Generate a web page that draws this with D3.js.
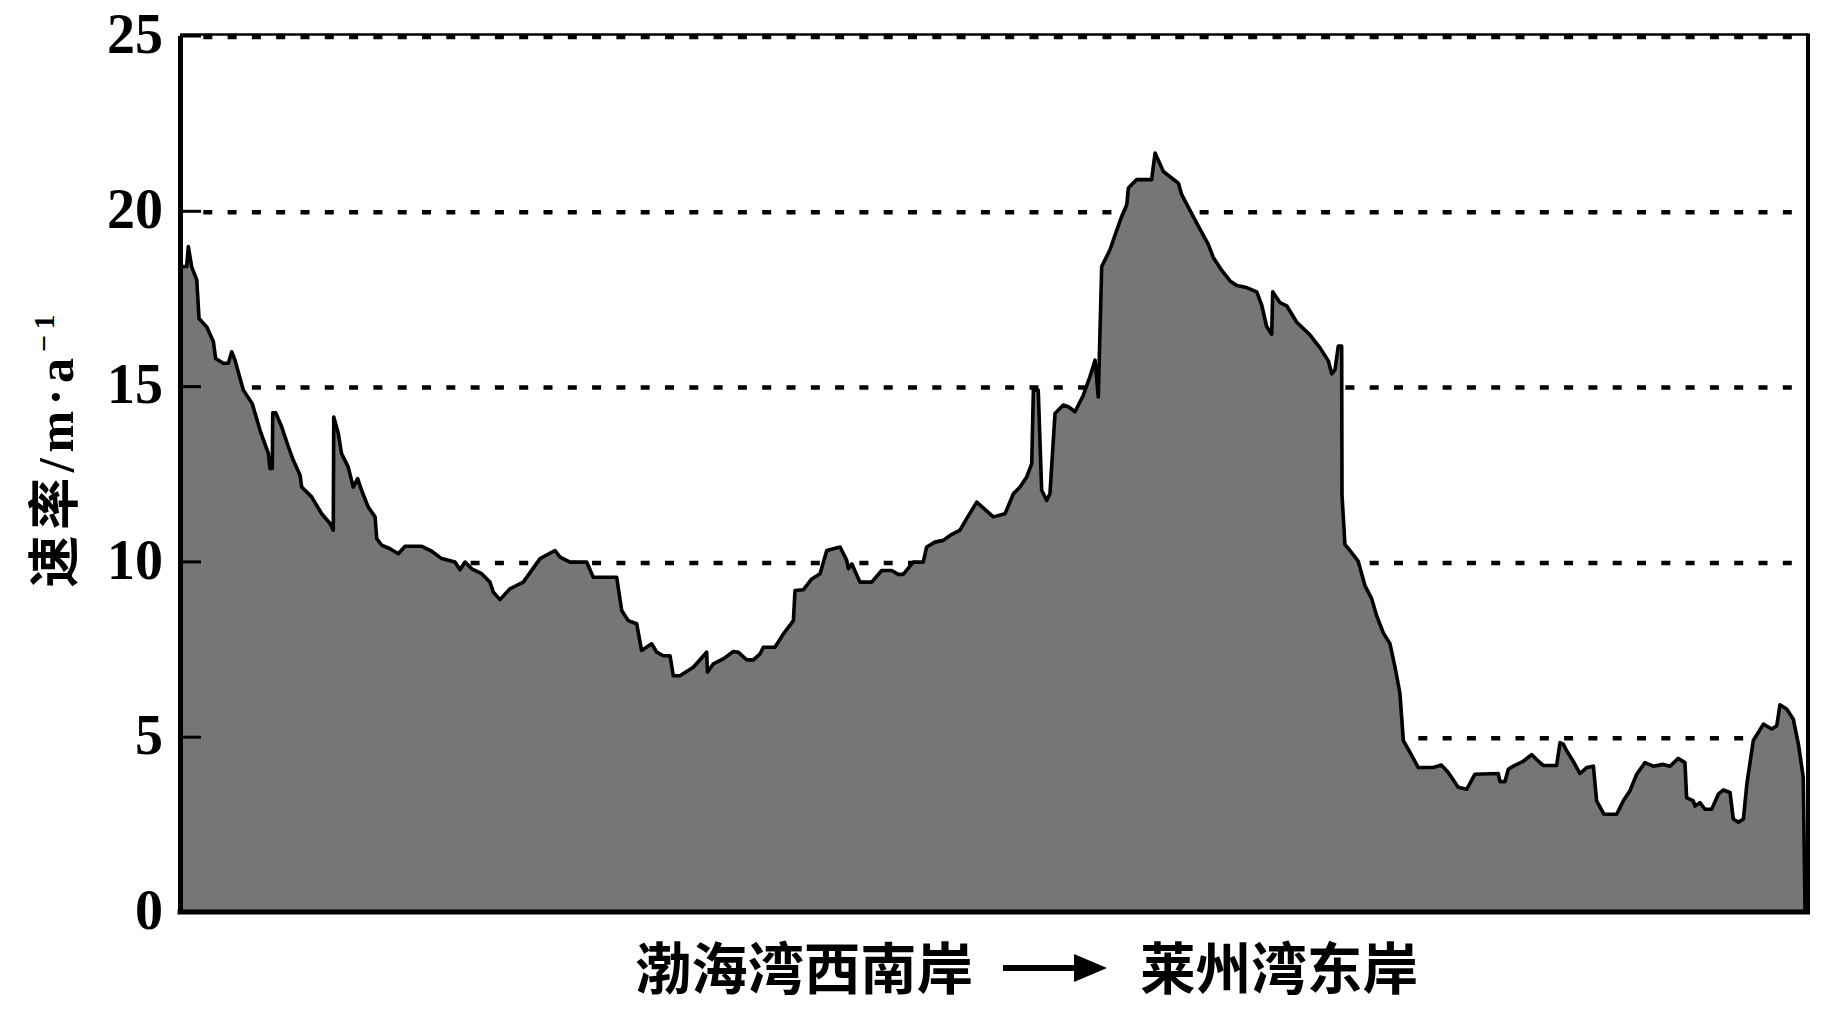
<!DOCTYPE html>
<html>
<head>
<meta charset="utf-8">
<script src="https://cdn.jsdelivr.net/npm/d3@7"></script>
<style>
  html, body { margin: 0; padding: 0; background: #ffffff; }
  svg { display: block; }
</style>
</head>
<body>
<svg id="chart" width="1834" height="1016"></svg>
<script>
// relative position along the coast (‰), from SW Bohai Bay to E Laizhou Bay
const positions = [0, 1.0, 4.1, 5.1, 7.2, 10.3, 11.7, 16.4, 20.5, 21.9, 26.6, 29.7, 31.8, 33.8, 38.9, 44.4, 49.2, 54.3, 55.3, 56.7, 57.0, 58.8, 62.5, 66.6, 69.6, 73.8, 74.8, 80.9, 87.1, 92.2, 94.2, 94.5, 97.3, 99.3, 103.4, 106.5, 109.2, 111.6, 115.7, 119.9, 120.9, 124.0, 129.1, 134.2, 138.3, 148.6, 154.7, 160.8, 169.0, 172.1, 175.2, 179.3, 185.4, 190.5, 192.6, 196.7, 202.8, 211.0, 221.3, 230.5, 233.6, 239.7, 250.0, 254.0, 268.4, 271.5, 275.5, 280.7, 283.7, 289.9, 293.0, 297.0, 301.2, 303.2, 307.3, 315.5, 323.7, 324.2, 327.8, 333.9, 340.1, 343.1, 348.3, 352.4, 356.5, 358.5, 365.7, 370.8, 377.0, 378.0, 383.1, 388.3, 393.4, 397.5, 405.7, 409.8, 410.8, 412.9, 417.9, 425.1, 431.3, 437.4, 441.5, 444.5, 450.7, 456.8, 458.9, 464.0, 469.1, 473.3, 479.4, 483.5, 489.7, 499.9, 507.1, 512.2, 516.3, 520.4, 523.5, 524.5, 527.5, 529.6, 532.7, 534.7, 537.8, 542.9, 546.0, 550.1, 555.2, 559.3, 562.4, 564.4, 566.5, 571.6, 574.7, 578.8, 581.9, 582.9, 588.0, 597.2, 599.3, 604.4, 613.6, 615.7, 624.9, 632.0, 635.1, 640.3, 645.4, 649.5, 655.6, 661.8, 664.8, 667.9, 671.0, 671.6, 676.1, 680.2, 686.4, 694.5, 700.7, 705.8, 707.9, 709.9, 711.9, 714.0, 714.2, 716.0, 719.1, 724.2, 728.3, 732.4, 735.5, 739.6, 743.7, 746.8, 749.8, 751.9, 756.0, 761.1, 770.3, 775.4, 779.5, 785.6, 790.8, 795.9, 810.2, 811.3, 814.4, 816.4, 819.5, 825.6, 830.8, 833.8, 837.9, 846.1, 848.2, 850.2, 852.3, 856.3, 860.5, 864.6, 868.7, 870.7, 875.2, 883.0, 887.1, 891.2, 895.3, 900.4, 905.5, 911.6, 915.8, 920.9, 925.0, 926.0, 930.1, 931.2, 934.2, 937.3, 941.4, 945.5, 948.6, 952.7, 954.7, 957.8, 960.9, 963.0, 967.0, 973.2, 978.3, 981.4, 983.4, 987.5, 991.6, 994.7, 997.7, 998.8];

// retreat rate (m·a⁻¹)
const rates = [18.4, 18.41, 18.41, 18.98, 18.4, 18.03, 16.93, 16.69, 16.27, 15.79, 15.65, 15.65, 15.98, 15.74, 14.89, 14.5, 13.74, 13.08, 12.65, 12.65, 14.24, 14.24, 13.84, 13.27, 12.89, 12.46, 12.12, 11.84, 11.36, 11.08, 10.89, 14.12, 13.65, 13.08, 12.69, 12.12, 12.36, 12.03, 11.55, 11.27, 10.65, 10.46, 10.36, 10.22, 10.43, 10.43, 10.29, 10.08, 9.98, 9.76, 9.98, 9.79, 9.65, 9.41, 9.12, 8.91, 9.22, 9.41, 10.08, 10.31, 10.12, 9.98, 9.98, 9.55, 9.55, 8.6, 8.31, 8.22, 7.46, 7.65, 7.41, 7.31, 7.31, 6.74, 6.74, 6.98, 7.41, 6.84, 7.08, 7.22, 7.43, 7.41, 7.19, 7.19, 7.36, 7.55, 7.55, 7.93, 8.31, 9.17, 9.19, 9.5, 9.65, 10.31, 10.41, 10.03, 9.79, 9.93, 9.41, 9.41, 9.74, 9.74, 9.63, 9.63, 9.98, 9.98, 10.41, 10.55, 10.6, 10.74, 10.89, 11.22, 11.69, 11.27, 11.36, 11.93, 12.12, 12.41, 12.79, 14.89, 14.89, 12.03, 11.74, 11.93, 14.22, 14.46, 14.41, 14.27, 14.74, 15.27, 15.74, 14.69, 18.41, 18.89, 19.31, 19.84, 20.17, 20.65, 20.89, 20.89, 21.65, 21.12, 20.79, 20.46, 19.65, 19.04, 18.67, 18.3, 18.0, 17.87, 17.81, 17.69, 17.32, 16.7, 16.48, 17.69, 17.38, 17.29, 16.82, 16.46, 16.09, 15.72, 15.35, 15.47, 16.14, 16.14, 11.9, 10.48, 10.31, 10.0, 9.31, 8.94, 8.45, 7.96, 7.65, 6.98, 6.24, 4.89, 4.55, 4.12, 4.12, 4.19, 3.98, 3.56, 3.5, 3.93, 3.95, 3.72, 3.72, 4.07, 4.16, 4.3, 4.49, 4.35, 4.18, 4.18, 4.83, 4.79, 4.6, 4.3, 3.95, 4.12, 4.16, 3.17, 2.79, 2.79, 3.17, 3.46, 3.93, 4.26, 4.16, 4.21, 4.16, 4.38, 4.26, 3.26, 3.17, 3.02, 3.12, 2.93, 2.93, 3.36, 3.48, 3.41, 2.65, 2.56, 2.65, 3.64, 4.89, 5.36, 5.22, 5.31, 5.91, 5.79, 5.5, 4.79, 3.84, 0];

const yTicks = [0, 5, 10, 15, 20, 25];
const gridValues = [5, 10, 15, 20, 25];
const yTitleCJK = "速率";
const yTitleUnit = "/m·a";
const yTitleExp = "−1";
const xLabelStart = "渤海湾西南岸";
const xLabelEnd = "莱州湾东岸";

const data = positions.map((p, i) => ({ p, v: rates[i] }));

const svg = d3.select("#chart");
svg.append("rect").attr("width", 1834).attr("height", 1016).attr("fill", "#ffffff");

const plotLeft = 180, plotRight = 1807, plotTop = 35.5, plotBottom = 912;
const x = d3.scaleLinear().domain([0, 1000]).range([plotLeft, plotRight]);
const y = d3.scaleLinear().domain([0, 25]).range([plotBottom, plotTop]);

// gridlines (behind area)
svg.append("g").selectAll("line").data(gridValues).join("line")
  .attr("x1", 203.3).attr("x2", 1800)
  .attr("y1", d => y(d) + 1.5).attr("y2", d => y(d) + 1.5)
  .attr("stroke", "#000").attr("stroke-width", 4.5)
  .attr("stroke-dasharray", "9,15.3");

// area
const area = d3.area().x(d => x(d.p)).y0(y(0)).y1(d => y(d.v)).curve(d3.curveLinear);
const line = d3.line().x(d => x(d.p)).y(d => y(d.v)).curve(d3.curveLinear);
svg.append("path").datum([...data, { p: 1000, v: 0 }]).attr("d", area).attr("fill", "#767676");
svg.append("path").datum(data).attr("d", line)
  .attr("fill", "none").attr("stroke", "#000").attr("stroke-width", 3.6).attr("stroke-linejoin", "round");

// frame: top and right
svg.append("line").attr("x1", plotLeft).attr("x2", 1808).attr("y1", 34.5).attr("y2", 34.5)
  .attr("stroke", "#000").attr("stroke-width", 2.5);
svg.append("line").attr("x1", 1808).attr("x2", 1808).attr("y1", 33.5).attr("y2", plotBottom + 2)
  .attr("stroke", "#000").attr("stroke-width", 4);

// y axis
const yAxis = d3.axisLeft(y).tickValues(yTicks).tickFormat(d3.format("d"))
  .tickSizeInner(-21).tickSizeOuter(0).tickPadding(17);
const gy = svg.append("g").attr("transform", `translate(${plotLeft},0)`).call(yAxis);
gy.select(".domain").attr("stroke", "#000").attr("stroke-width", 5);
gy.selectAll(".tick line").attr("stroke", "#000").attr("stroke-width", 3);
gy.selectAll(".tick text")
  .attr("fill", "#000")
  .attr("dy", "0.3em")
  .style("font-family", "'Liberation Serif', 'Times New Roman', serif")
  .style("font-weight", "bold")
  .style("font-size", "56px");

// x axis (bottom line)
svg.append("line").attr("x1", plotLeft - 2.5).attr("x2", 1810).attr("y1", plotBottom).attr("y2", plotBottom)
  .attr("stroke", "#000").attr("stroke-width", 5);

// y title
const yt = svg.append("text")
  .attr("transform", "translate(73,451) rotate(-90)")
  .attr("text-anchor", "middle")
  .attr("textLength", 273).attr("lengthAdjust", "spacing")
  .attr("fill", "#000");
yt.append("tspan").text(yTitleCJK)
  .style("font-family", "'Noto Sans CJK SC', sans-serif").style("font-weight", "700").style("font-size", "52px");
yt.append("tspan").text(yTitleUnit)
  .style("font-family", "'Liberation Serif', 'Times New Roman', serif").style("font-weight", "bold").style("font-size", "50px");
yt.append("tspan").text(yTitleExp).attr("dy", -19)
  .style("font-family", "'Liberation Serif', 'Times New Roman', serif").style("font-weight", "bold").style("font-size", "30px");

// x label
const cjkStyle = sel => sel
  .style("font-family", "'Noto Sans CJK SC', sans-serif")
  .style("font-weight", "700")
  .style("font-size", "56px")
  .attr("fill", "#000");
svg.append("text").attr("x", 635).attr("y", 989).attr("textLength", 338).attr("lengthAdjust", "spacingAndGlyphs")
  .text(xLabelStart).call(cjkStyle);
svg.append("text").attr("x", 1140).attr("y", 989).attr("textLength", 278).attr("lengthAdjust", "spacingAndGlyphs")
  .text(xLabelEnd).call(cjkStyle);
// arrow
svg.append("line").attr("x1", 1003).attr("x2", 1080).attr("y1", 968).attr("y2", 968)
  .attr("stroke", "#000").attr("stroke-width", 6);
svg.append("path").attr("d", "M1074,954 L1107,968 L1074,982 Z").attr("fill", "#000");
</script>
</body>
</html>
